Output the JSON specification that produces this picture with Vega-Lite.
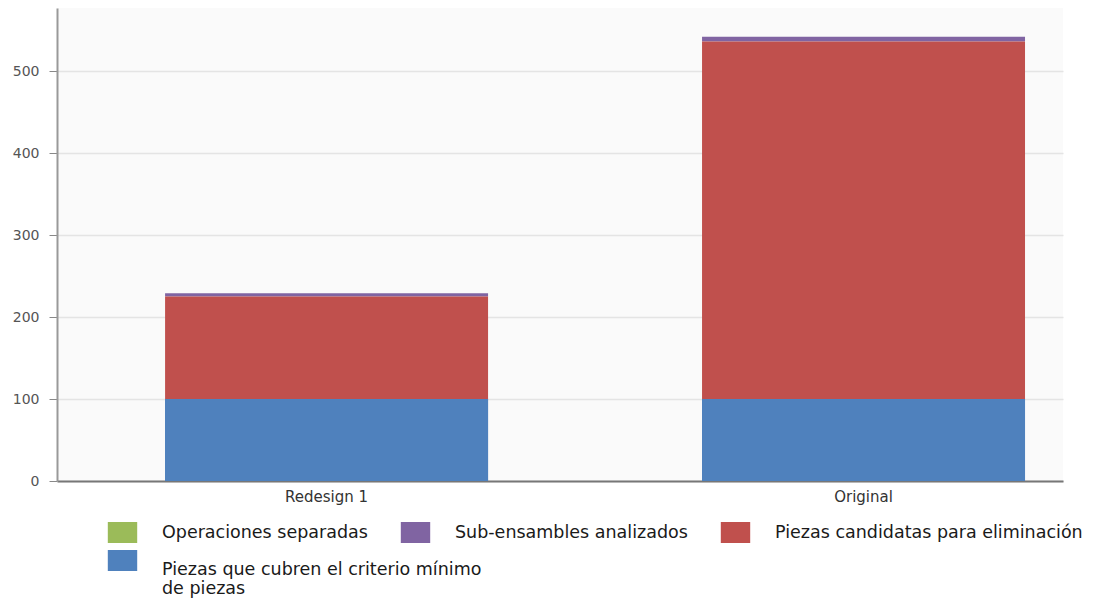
{
  "$schema": "https://vega.github.io/schema/vega-lite/v6.json",
  "autosize": {"type": "none"},
  "width": 1006,
  "height": 473,
  "padding": {"left": 57, "top": 8, "right": 30, "bottom": 123},
  "background": "white",
  "config": {
    "view": {"fill": "#fafafa", "stroke": null},
    "font": "DejaVu Sans"
  },
  "data": {
    "values": [
      {"design": "Redesign 1", "category": "Operaciones separadas", "value": 0, "ord": 4},
      {"design": "Redesign 1", "category": "Sub-ensambles analizados", "value": 4, "ord": 3},
      {"design": "Redesign 1", "category": "Piezas candidatas para eliminación", "value": 125, "ord": 2},
      {"design": "Redesign 1", "category": "Piezas que cubren el criterio mínimo de piezas", "value": 100, "ord": 1},
      {"design": "Original", "category": "Operaciones separadas", "value": 0, "ord": 4},
      {"design": "Original", "category": "Sub-ensambles analizados", "value": 6, "ord": 3},
      {"design": "Original", "category": "Piezas candidatas para eliminación", "value": 436, "ord": 2},
      {"design": "Original", "category": "Piezas que cubren el criterio mínimo de piezas", "value": 100, "ord": 1}
    ]
  },
  "encoding": {
    "x": {
      "field": "design",
      "type": "nominal",
      "sort": ["Redesign 1", "Original"],
      "scale": {"paddingInner": 0.3985, "paddingOuter": 0.136, "align": 0.74},
      "axis": {
        "title": null,
        "labelAngle": 0,
        "labelFontSize": 15,
        "labelColor": "#333333",
        "labelPadding": 8,
        "ticks": false,
        "domainColor": "#777777",
        "domainWidth": 2
      }
    },
    "y": {
      "field": "value",
      "type": "quantitative",
      "stack": "zero",
      "scale": {"domain": [0, 577], "nice": false},
      "axis": {
        "title": null,
        "values": [0, 100, 200, 300, 400, 500],
        "labelFontSize": 14,
        "labelColor": "#555555",
        "labelPadding": 10,
        "tickSize": 8,
        "tickColor": "#888888",
        "domainColor": "#999999",
        "domainWidth": 2,
        "gridColor": "#e4e4e4",
        "gridWidth": 1.5
      }
    }
  },
  "layer": [
    {
      "mark": {"type": "bar"},
      "encoding": {
        "color": {
          "field": "category",
          "type": "nominal",
          "scale": {
            "domain": ["Operaciones separadas", "Sub-ensambles analizados", "Piezas candidatas para eliminación", "Piezas que cubren el criterio mínimo de piezas"],
            "range": ["#9bbb59", "#8064a2", "#c0504d", "#4f81bd"]
          },
          "legend": {
            "title": null,
            "values": ["Operaciones separadas", "Sub-ensambles analizados", "Piezas candidatas para eliminación"],
            "orient": "none",
            "legendX": 55,
            "legendY": 514,
            "direction": "horizontal",
            "columns": 3,
            "columnPadding": 32,
            "symbolType": "M-1.4,-1H1.4V1H-1.4Z",
            "symbolSize": 441,
            "symbolStrokeWidth": 0,
            "symbolOpacity": 1,
            "labelFontSize": 17.5,
            "labelColor": "#1a1a1a",
            "labelLimit": 500,
            "labelOffset": 29
          }
        },
        "order": {"field": "ord", "type": "quantitative"}
      }
    },
    {
      "transform": [{"filter": "datum.category == 'Piezas que cubren el criterio mínimo de piezas'"}],
      "mark": {"type": "bar"},
      "encoding": {
        "fill": {
          "field": "category",
          "type": "nominal",
          "scale": {
            "domain": ["Piezas que cubren el criterio mínimo de piezas"],
            "range": ["#4f81bd"]
          },
          "legend": {
            "title": null,
            "orient": "none",
            "legendX": 55,
            "legendY": 542,
            "symbolType": "M-1.4,-1H1.4V1H-1.4Z",
            "symbolSize": 441,
            "symbolStrokeWidth": 0,
            "symbolOpacity": 1,
            "labelFontSize": 17.5,
            "labelColor": "#1a1a1a",
            "labelLimit": 500,
            "labelOffset": 29,
            "labelBaseline": "top",
            "labelExpr": "['Piezas que cubren el criterio mínimo', 'de piezas']"
          }
        }
      }
    }
  ]
}
